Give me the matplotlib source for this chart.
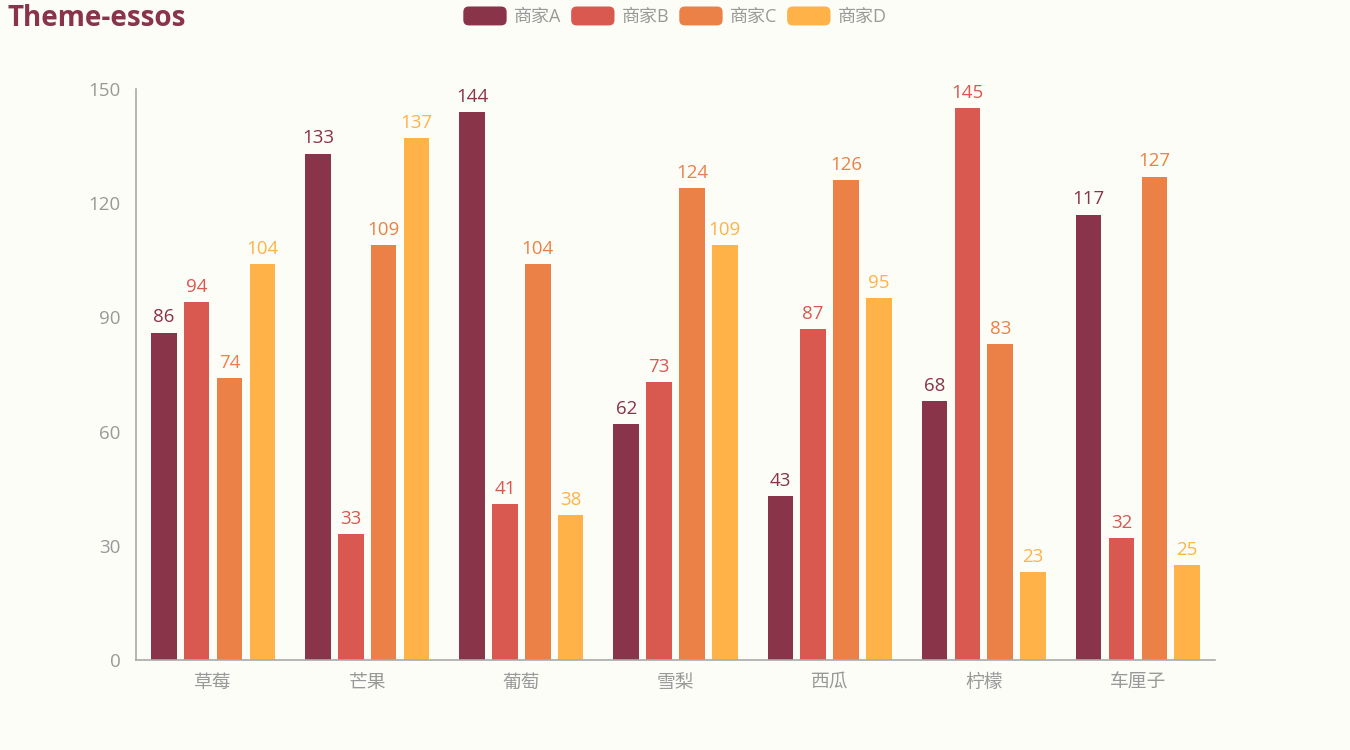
import matplotlib
matplotlib.use("Agg")
import matplotlib.pyplot as plt
import numpy as np
from matplotlib.patches import FancyBboxPatch
from matplotlib.legend_handler import HandlerBase

plt.rcParams['font.family'] = ['Open Sans', 'Noto Sans CJK SC', 'DejaVu Sans']

categories = ["草莓", "芒果", "葡萄", "雪梨", "西瓜", "柠檬", "车厘子"]
series_names = ["商家A", "商家B", "商家C", "商家D"]
values_a = [86, 133, 144, 62, 43, 68, 117]
values_b = [94, 33, 41, 73, 87, 145, 32]
values_c = [74, 109, 104, 124, 126, 83, 127]
values_d = [104, 137, 38, 109, 95, 23, 25]
y_ticks = [0, 30, 60, 90, 120, 150]

colors = ['#893448', '#d95850', '#eb8146', '#ffb248']
bg = '#fdfdf8'
series = [values_a, values_b, values_c, values_d]

fig = plt.figure(figsize=(13.5, 7.5), dpi=100, facecolor=bg)
ax = fig.add_axes([136/1350, 1-660/750, (1215-136)/1350, (660-89)/750])
ax.set_facecolor(bg)

x = np.arange(len(categories))
width = 0.166
step = 0.213
for i, (vals, c, name) in enumerate(zip(series, colors, series_names)):
    pos = x + (i - 1.5) * step
    ax.bar(pos, vals, width=width, color=c, label=name, zorder=2)
    for p, v in zip(pos, vals):
        ax.annotate(str(v), (p, v), xytext=(0, 4.5), textcoords='offset points',
                    ha='center', va='bottom', color=c, fontsize=13.5)

ax.set_xlim(-0.5, len(categories) - 0.5)
ax.set_ylim(0, 150)
ax.set_yticks(y_ticks)
ax.set_xticks(x)
ax.set_xticklabels(categories)
for s in ['top', 'right']:
    ax.spines[s].set_visible(False)
for s in ['left', 'bottom']:
    ax.spines[s].set_color('#aaaaaa')
    ax.spines[s].set_linewidth(1.2)
ax.tick_params(axis='both', length=0, labelsize=13.5, labelcolor='#999999')
ax.tick_params(axis='x', pad=10)
ax.tick_params(axis='y', pad=11)

fig.text(8/1350, 1-18/750, "Theme-essos", fontsize=20, fontweight='bold',
         color='#893448', ha='left', va='center')


class RoundHandler(HandlerBase):
    def create_artists(self, legend, orig_handle, xdescent, ydescent, width, height, fontsize, trans):
        p = FancyBboxPatch((-xdescent, -ydescent - 1), width, height + 2,
                           boxstyle="round,pad=0,rounding_size=4",
                           facecolor=orig_handle.patches[0].get_facecolor(),
                           edgecolor='none', transform=trans)
        return [p]

handles, labels = ax.get_legend_handles_labels()
leg = fig.legend(handles, labels, loc='center', bbox_to_anchor=(675/1350, 1-17/750),
                 ncol=4, frameon=False, fontsize=13, handlelength=2.4, handleheight=1.0,
                 handletextpad=0.4, columnspacing=0.55,
                 handler_map={type(handles[0]): RoundHandler()})
for t in leg.get_texts():
    t.set_color('#999999')

fig.savefig('out.png', dpi=100, facecolor=bg)
